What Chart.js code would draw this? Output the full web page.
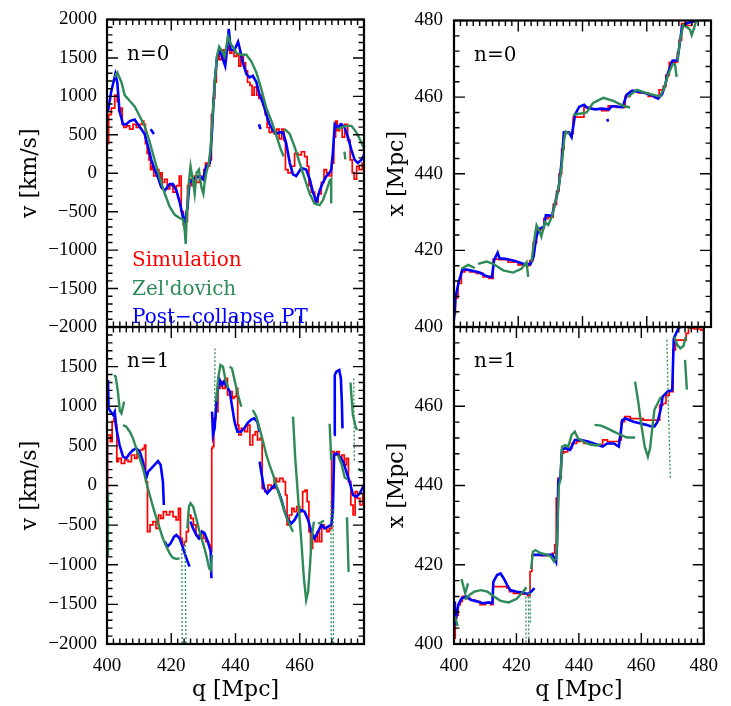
<!DOCTYPE html>
<html><head><meta charset="utf-8">
<script src="https://cdn.jsdelivr.net/npm/chart.js@4"></script>
<style>
html,body{margin:0;padding:0;background:#fff;}
#wrap{position:relative;width:731px;height:706px;background:#fff;overflow:hidden;}
#wrap canvas{position:absolute;left:0;top:0;}
</style></head><body>
<div id="wrap">
<canvas id="cTL" width="731" height="706"></canvas>
<canvas id="cBL" width="731" height="706"></canvas>
<canvas id="cTR" width="731" height="706"></canvas>
<canvas id="cBR" width="731" height="706"></canvas>
</div>
<script>
// ---------- tick labels ----------
const qTicks = [400, 420, 440, 460, 480];
const vTicks = [-2000, -1500, -1000, -500, 0, 500, 1000, 1500, 2000];
const xTicks = [400, 420, 440, 460, 480];
const seriesNames = ['Simulation', "Zel'dovich", 'Post\u2212collapse PT'];
const panelLabels = ['n=0', 'n=1'];

// ---------- top-left: n=0, velocity ----------
const q_TL_sim = [400.2,400.8,401.9,402.9,403.4,403.9,404.5,405.0,405.5,406.5,407.6,408.6,409.6,410.7,411.2,411.7,412.2,412.8,413.3,413.8,414.3,414.8,415.9,416.4,416.9,417.4,418.5,419.0,420.0,421.1,422.1,422.9,423.3,424.2,424.7,425.4,426.0,426.8,427.5,428.3,429.2,429.9,430.4,430.9,431.6,432.3,432.7,433.3,433.8,434.3,434.8,435.4,436.1,436.8,437.5,437.9,438.5,439.2,439.9,440.8,441.3,442.0,442.9,443.4,444.1,444.9,445.4,446.2,447.0,447.5,448.0,448.9,449.6,450.1,450.9,451.7,452.4,453.2,454.0,454.8,455.3,455.8,456.9,457.9,458.9,460.0,461.0,462.0,462.6,463.1,464.1,465.2,466.2,467.2,467.9,468.8,469.6,470.3,470.9,471.4,471.9,472.9,473.5,474.5,475.3,476.1,476.6,477.3,478.1,478.9,480.0];
const v_TL_sim = [385,763,848,1016,932,805,848,637,595,616,574,637,595,637,679,637,385,259,175,48,91,-36,48,-78,6,-120,-78,-204,-162,-246,-162,-36,-498,-667,-625,-162,-78,-162,-36,-120,-36,-78,48,133,91,175,763,974,1184,1478,1563,1478,1604,1478,1604,1647,1563,1604,1520,1541,1394,1520,1436,1331,1184,1142,1016,1121,1016,974,1016,890,763,595,532,553,511,574,448,574,427,48,6,91,259,238,280,217,91,-162,-246,-372,-267,-120,48,6,-36,133,469,679,553,637,469,637,427,175,6,-78,91,48,133];
const q_TL_zel = [402.4,403.2,404.5,405.5,407.1,408.6,410.2,411.7,413.3,414.8,416.4,418.0,419.5,421.1,422.6,423.7,424.2,424.5,424.8,425.4,426.0,426.7,427.3,427.9,428.6,429.4,430.0,430.4,430.9,431.6,432.3,432.9,433.5,434.2,434.9,435.6,436.6,437.7,438.5,439.2,440.3,441.8,443.4,444.9,446.5,448.0,449.6,451.2,452.7,454.0,455.0,null,455.3,456.9,458.4,460.0,461.6,463.1,464.6,466.2,467.2,468.3,469.3,469.8,469.8,null,471.7,472.9,474.5,476.1,477.6,478.9,480.0,null,473.9,474.2];
const v_TL_zel = [1247,1310,1184,1016,940,869,742,616,406,175,-57,-267,-435,-541,-583,-604,-751,-919,-583,-162,91,-78,-267,6,48,-183,-267,-120,6,112,343,763,1142,1520,1647,1604,1520,1780,1680,1647,1563,1541,1541,1457,1310,1100,848,679,490,322,217,null,574,511,343,133,-78,-267,-393,-414,-351,-225,-99,-78,-393,null,574,595,616,616,532,427,322,null,280,180];
const q_TL_pt = [400.3,401.3,402.6,403.2,403.9,405.0,406.0,407.1,408.6,409.6,410.7,411.7,412.8,413.8,414.8,415.9,416.9,418.0,419.5,420.5,421.6,422.6,423.7,424.2,425.0,425.7,426.8,427.8,428.8,429.9,430.9,432.0,432.7,433.5,434.3,435.1,436.1,436.8,437.5,437.9,438.5,439.7,440.8,441.3,442.3,443.4,444.4,445.4,446.5,447.5,448.6,449.6,450.6,451.7,452.7,453.7,454.8,455.8,456.9,457.9,458.9,460.5,462.0,463.1,464.1,465.2,466.2,467.2,468.3,469.3,469.8,470.3,470.9,471.9,472.9,474.0,475.0,476.1,477.1,478.1,479.2,480.0,null,413.6,414.6,null,447.3,447.8];
const v_TL_pt = [805,1058,1289,1184,805,637,637,679,700,637,574,511,343,175,48,-57,-183,-225,-141,-141,-225,-372,-583,-625,-456,-120,-78,-57,-36,-78,91,133,553,1184,1520,1604,1478,1394,1689,1878,1604,1604,1710,1626,1436,1289,1247,1268,1184,1016,911,763,637,553,511,532,532,385,133,-15,-36,69,48,-78,-246,-372,-225,-120,-36,6,48,259,637,595,637,595,469,301,175,133,175,238,null,574,511,null,637,574];

// ---------- bottom-left: n=1, velocity ----------
const q_BL_sim = [400.1,400.3,400.8,401.3,401.9,402.4,402.9,403.2,403.9,405.0,406.0,407.1,408.1,409.1,409.6,410.7,411.5,411.9,412.2,413.0,413.8,414.8,415.7,416.4,417.1,418.0,419.0,420.0,421.1,421.9,422.6,423.1,423.7,424.4,425.0,425.7,426.5,427.3,428.1,428.8,429.6,430.4,431.2,432.0,432.5,432.7,433.0,433.5,434.3,434.8,435.6,436.4,437.1,437.9,438.7,439.2,439.9,440.6,440.8,441.3,442.3,443.4,444.1,444.9,445.8,446.5,447.2,448.0,448.6,449.6,450.6,451.7,452.4,453.2,454.3,455.3,455.8,456.3,457.2,457.9,458.6,459.5,460.5,461.3,462.0,462.6,463.1,463.6,464.4,465.2,465.7,466.5,467.2,468.0,468.8,469.6,470.3,471.1,471.9,472.7,473.5,474.2,474.8,475.5,476.3,476.9,477.6,478.3,479.2,480.0];
const v_BL_sim = [-78,637,637,553,805,848,763,301,343,280,322,301,385,343,427,448,469,511,48,-583,-498,-456,-541,-372,-414,-330,-372,-330,-393,-435,-288,-667,-751,-709,-583,-372,-414,-498,-625,-667,-583,-667,-709,-751,-835,469,490,848,932,1226,1310,1226,1352,1142,1184,1100,1121,1226,763,637,721,679,763,511,637,679,574,595,-36,-78,6,-36,91,48,91,48,-120,-498,-372,-288,-330,-267,-330,-78,-57,-204,-583,-793,-667,-709,-583,-709,-498,-541,-583,-541,427,385,427,343,385,259,343,48,-246,-372,-78,-162,-246,-120];
const q_BL_zel = [400.1,400.3,null,402.2,402.7,403.4,404.0,404.5,405.0,405.3,null,405.0,406.0,407.1,408.1,409.1,410.2,411.2,412.2,413.3,414.3,415.4,416.4,417.4,418.5,419.5,420.5,421.6,422.6,null,425.0,425.5,426.0,426.8,427.8,428.8,429.9,430.9,431.8,432.3,432.7,null,434.0,434.6,435.3,436.1,436.8,437.7,null,438.2,438.9,439.7,440.8,441.8,null,445.4,446.5,447.5,448.6,449.6,450.6,451.7,452.7,453.7,454.8,455.8,456.9,457.9,null,457.9,458.6,459.5,460.5,461.3,462.0,462.6,463.2,463.7,464.4,null,465.7,466.7,467.5,null,469.3,469.8,null,471.9,473.0,474.0,474.8,null,474.7,475.2,null,475.8,476.5,477.3,477.8,null,478.2,479.0,480.0];
const v_BL_zel = [-880,-80,null,1394,1373,1184,940,911,995,1058,null,763,742,679,595,469,343,217,48,-120,-267,-414,-541,-667,-772,-856,-911,-927,-919,null,-541,-267,-225,-267,-414,-583,-730,-877,-1045,-1066,-877,null,1058,1352,1520,1499,1352,1226,null,1499,1478,1331,1142,995,null,953,869,721,553,385,259,133,6,-120,-267,-393,-498,-583,null,869,343,-162,-709,-1171,-1445,-1340,-1003,-667,-456,null,-480,-470,-440,null,780,320,null,385,270,100,80,null,-400,-1090,null,1300,900,760,700,null,210,190,190];
const q_BL_zel_spikes = [423.3,423.4,null,424.3,424.6,null,433.5,433.6,null,469.7,469.8,null,470.4,470.5,null,476.8,477.0];
const v_BL_zel_spikes = [-800,-2050,null,-700,-2050,null,950,1730,null,-200,-2050,null,-300,-2050,null,1350,300];
const q_BL_pt = [400.3,400.5,401.1,401.9,402.4,402.9,403.9,405.0,406.0,407.1,408.1,409.1,410.2,411.2,412.2,412.8,413.8,414.8,415.9,416.7,417.4,417.7,null,418.0,418.8,419.8,420.9,421.6,422.6,423.7,424.7,425.7,null,426.0,426.8,427.8,428.6,429.6,430.4,431.4,432.3,432.5,null,432.7,433.0,433.5,434.3,435.1,435.8,436.4,437.1,438.2,439.2,439.7,440.6,441.6,442.7,443.7,444.7,445.8,446.8,447.5,null,447.5,448.0,448.9,449.9,451.2,452.2,453.2,454.3,455.3,456.3,457.4,458.4,459.5,460.5,461.5,462.6,463.6,464.6,465.7,466.7,467.8,468.8,469.8,470.3,470.7,471.4,472.4,473.5,474.5,475.5,476.6,477.6,478.7,480.0,null,470.7,470.9,471.4,472.3,472.8,473.1,473.3];
const v_BL_pt = [1331,974,932,890,932,721,511,364,343,406,448,469,427,301,91,175,217,259,309,259,48,-246,null,-709,-772,-730,-646,-625,-667,-793,-919,-1024,null,-456,-541,-625,-667,-583,-604,-709,-835,-1171,null,932,637,721,1184,1331,1268,1310,1268,1184,932,805,679,679,721,784,826,848,805,679,null,301,175,-36,-99,-36,6,-57,-183,-330,-435,-477,-435,-351,-309,-330,-435,-583,-667,-583,-498,-541,-520,-498,-330,385,406,364,301,175,48,-120,-141,-99,6,null,637,1394,1436,1457,1352,1058,721];

// ---------- top-right: n=0, position ----------
const q_TR_sim = [400.2,400.7,401.8,402.8,403.9,405.9,408.0,410.1,411.7,412.7,415.3,418.4,421.5,423.1,424.1,425.2,426.2,427.7,428.3,430.4,431.4,432.4,433.0,434.0,434.5,436.6,437.6,440.2,440.7,444.4,447.5,448.5,452.7,453.9,455.8,458.9,462.0,463.1,464.6,465.7,466.2,467.8,469.3,469.8,470.3,471.4,473.5,474.5,475.5];
const x_TR_sim = [403.4,407.6,411.4,414.4,414.8,414.4,414.0,413.1,412.7,417.7,417.6,416.9,416.2,416.0,417.3,422.0,425.3,425.7,428.3,428.7,432.0,435.4,440.0,446.4,450.5,450.5,454.8,454.8,457.3,456.9,456.5,457.7,457.3,460.2,461.5,461.1,460.2,459.8,461.9,462.8,465.7,469.1,469.1,471.6,474.9,479.2,478.7,479.6,481.0];
const q_TR_zel = [402.3,404.4,406.5,null,407.5,410.1,412.2,415.3,418.4,421.0,422.6,423.1,null,424.1,425.2,425.7,426.7,427.2,428.3,429.3,430.5,431.5,432.5,433.5,434.3,434.8,436.0,null,437.0,438.5,440.0,441.3,443.3,446.5,449.6,452.7,454.8,null,454.0,456.9,461.0,464.1,465.5,466.5,468.0,468.8,469.3,null,469.6,470.3,471.4,473.0,473.5,474.0,475.0,475.5];
const x_TR_zel = [415.2,416.2,415.4,null,416.5,417.1,416.5,414.8,414.2,415.2,416.9,413.1,null,417.0,424.0,426.6,424.9,423.6,427.4,426.6,428.8,432.4,436.0,442.0,449.0,451.0,450.5,null,455.3,455.6,455.8,456.0,458.5,459.8,459.0,457.7,457.3,null,460.0,461.9,460.8,460.2,462.5,465.5,468.5,468.6,465.3,null,469.5,474.5,478.8,478.0,477.5,476.2,478.7,480.5];
const q_TR_pt = [400.0,400.5,401.5,402.6,404.0,406.0,408.0,410.0,411.8,412.5,413.6,414.2,416.0,419.0,422.0,423.8,424.8,425.6,426.5,428.0,428.6,430.5,431.5,432.6,433.5,434.2,435.8,436.6,437.7,439.0,440.5,441.5,444.0,446.0,448.3,449.0,452.5,453.7,455.5,459.0,461.5,463.5,464.8,465.8,466.5,468.0,469.5,470.2,471.0,472.5,474.5,476.0,null,447.7,448.0];
const x_TR_pt = [402.0,408.0,411.8,415.0,415.0,414.6,414.2,413.3,413.0,417.5,419.4,417.9,417.8,417.2,416.4,416.4,418.5,423.5,425.6,426.2,429.2,429.0,432.5,436.5,443.0,450.8,450.8,449.6,455.5,457.5,458.0,457.2,456.8,457.0,456.8,457.6,457.4,460.6,461.7,461.2,460.5,459.6,460.8,463.4,466.0,469.5,469.6,473.5,478.5,479.3,479.8,481.0,null,454.3,453.6];

// ---------- bottom-right: n=1, position ----------
const q_BR_sim = [400.3,400.5,401.1,401.6,402.4,402.9,404.5,406.0,407.6,409.1,411.2,412.3,412.6,414.3,416.4,417.5,418.0,420.1,423.2,424.0,424.7,425.2,426.8,428.9,431.0,432.0,432.5,433.0,433.6,434.1,434.6,435.6,437.2,438.2,440.3,442.9,445.0,447.1,448.1,450.2,452.3,453.3,453.9,455.4,457.5,459.5,461.6,464.2,465.8,466.0,467.8,468.0,469.9,470.4,471.5,474.1,474.6,475.6,478.2,480.0];
const x_BR_sim = [401.5,406.5,407.3,409.9,410.7,412.0,411.5,411.1,410.7,409.9,410.3,409.9,414.5,414.5,414.5,414.1,413.2,412.8,412.6,412.2,418.3,422.5,422.5,422.3,422.5,422.9,425.0,436.8,441.8,441.8,448.1,448.5,449.4,450.6,451.1,450.6,450.2,450.2,451.5,451.1,451.1,451.5,456.1,457.4,456.9,456.9,456.5,456.5,456.5,460.3,460.7,462.8,463.7,474.2,476.7,476.7,478.4,479.7,479.5,479.2];
const q_BR_zel = [400.3,401.2,null,402.4,403.6,404.5,null,403.5,405.0,406.5,408.6,410.7,412.8,414.9,417.5,420.1,422.1,423.2,null,424.7,425.3,426.1,427.8,429.4,431.0,432.0,432.7,433.0,433.6,434.1,434.6,435.6,436.6,437.7,438.7,439.7,441.4,443.4,445.5,447.1,null,445.0,447.1,449.1,451.2,453.3,455.4,458.0,null,458.0,459.0,460.0,461.1,462.1,462.8,463.5,464.2,465.2,466.3,null,470.6,471.5,472.5,473.5,474.2,null,474.0,474.6,null,475.3,476.0];
const x_BR_zel = [407.0,404.5,null,416.4,412.8,415.3,null,411.2,412.4,413.2,413.6,413.2,412.0,410.9,410.5,411.4,413.2,414.3,null,418.9,423.3,423.7,422.9,422.6,422.1,420.8,421.6,426.0,440.1,441.5,449.8,450.2,449.8,452.8,453.6,451.9,451.1,450.4,450.1,450.4,null,455.3,455.1,454.4,453.6,452.8,452.1,452.1,null,466.2,461.2,455.3,449.8,447.3,449.4,454.4,459.1,460.7,462.4,null,477.5,475.5,474.6,475.2,477.5,null,471.7,464.2,null,479.5,480.5];
const q_BR_zel_spikes = [423.0,423.1,null,423.8,424.0,null,424.3,424.5,null,468.2,468.6,469.3];
const x_BR_zel_spikes = [414.0,400.0,null,413.0,400.0,null,416.0,405.0,null,476.8,462.0,441.5];
const q_BR_pt = [400.1,400.3,400.8,401.4,402.4,403.9,405.5,407.6,409.1,411.2,412.3,412.6,413.8,414.9,415.9,417.0,418.0,420.1,422.1,423.6,424.7,425.8,null,425.2,428.0,431.5,432.3,432.7,433.0,433.4,434.1,434.6,435.6,437.2,438.7,440.8,442.9,445.5,447.6,449.1,451.2,452.8,453.9,454.9,457.5,459.5,461.6,463.2,464.2,465.2,466.3,466.8,468.4,469.9,470.4,471.9,474.0,476.0,480.0];
const x_BR_pt = [410.7,404.8,407.3,409.9,411.5,412.0,411.1,410.7,410.3,410.5,410.3,415.7,417.4,417.8,416.6,414.9,413.6,413.2,413.0,412.6,413.2,414.1,null,422.5,422.5,422.5,421.6,420.8,425.0,441.0,442.3,449.0,449.4,449.0,451.5,451.5,451.1,450.4,449.8,450.6,450.6,449.8,456.5,456.9,456.1,455.7,455.3,454.9,454.9,456.1,459.5,462.4,463.7,464.1,477.1,479.7,480.5,480.5,480.5];

// ---------- drawing ----------
const RED = '#ff0000', GREEN = '#2e8b57', BLUE = '#0000ff';
const pts = (qs, vs) => qs.map((q, i) => ({x: q, y: vs[i] === undefined ? null : vs[i]}));
const fmt = v => (v < 0 ? '\u2212' + Math.abs(v) : String(v));

const framePlugin = {
  id: 'frameTicks',
  afterDatasetsDraw(chart, args, o) {
    const {ctx, chartArea: a} = chart;
    const xs = chart.scales.x, ys = chart.scales.y;
    ctx.save();
    ctx.strokeStyle = '#000';
    ctx.lineWidth = 1.4;
    ctx.beginPath();
    const nx = Math.round((xs.max - xs.min) / o.xMinor);
    for (let i = 0; i <= nx; i++) {
      const v = xs.min + i * o.xMinor;
      const major = Math.abs(v / o.xMajor - Math.round(v / o.xMajor)) < 1e-6;
      const L = major ? 11 : 5.5;
      const px = xs.getPixelForValue(v);
      ctx.moveTo(px, a.bottom); ctx.lineTo(px, a.bottom - L);
      ctx.moveTo(px, a.top); ctx.lineTo(px, a.top + L);
    }
    const ny = Math.round((ys.max - ys.min) / o.yMinor);
    for (let i = 0; i <= ny; i++) {
      const v = ys.min + i * o.yMinor;
      const major = Math.abs(v / o.yMajor - Math.round(v / o.yMajor)) < 1e-6;
      const L = major ? 11 : 5.5;
      const py = ys.getPixelForValue(v);
      ctx.moveTo(a.left, py); ctx.lineTo(a.left + L, py);
      ctx.moveTo(a.right, py); ctx.lineTo(a.right - L, py);
    }
    ctx.stroke();
    ctx.lineWidth = 2.2;
    ctx.strokeRect(a.left, a.top, a.right - a.left, a.bottom - a.top);
    // panel label
    ctx.font = '20px "DejaVu Serif"';
    ctx.textBaseline = 'alphabetic';
    ctx.textAlign = 'left';
    ctx.fillStyle = '#000';
    ctx.fillText(o.nlabel, a.left + 20, a.top + 40);
    if (o.legend) {
      const cols = [RED, GREEN, BLUE];
      const offs = [246, 275, 303];
      seriesNames.forEach((t, i) => {
        ctx.fillStyle = cols[i];
        ctx.fillText(t, a.left + 25, a.top + offs[i]);
      });
    }
    ctx.restore();
  }
};

function makeChart(id, p) {
  const left = p.col === 0, top = p.row === 0;
  const yW = left ? 107 : 74;
  const xH = top ? 20 : 62;
  const pad = {
    left: left ? 0 : 380,
    right: left ? 367 : 20,
    top: top ? 10 : 327,
    bottom: top ? (706 - 327 - xH) : 0
  };
  const ds = (data, col, w, extra) => Object.assign({data, borderColor: col, borderWidth: w, pointRadius: 0, fill: false, tension: 0, spanGaps: false, clip: 0}, extra || {});
  const sets = [ds(p.zel, GREEN, 2.4)];
  if (p.spk) sets.push(ds(p.spk, GREEN, 1.3, {borderDash: [2, 2]}));
  sets.push(ds(p.pt, BLUE, 2.6));
  sets.push(ds(p.sim, RED, 1.7, {stepped: 'middle'}));
  new Chart(document.getElementById(id), {
    type: 'line',
    data: {datasets: sets},
    options: {
      responsive: false, animation: false, devicePixelRatio: 1,
      layout: {padding: pad},
      plugins: {legend: {display: false}, tooltip: {enabled: false},
        frameTicks: {xMajor: 20, xMinor: 2, yMajor: p.yMajor, yMinor: p.yMinor, nlabel: p.nlabel, legend: p.legend}},
      scales: {
        x: {
          type: 'linear', min: 400, max: 480,
          afterBuildTicks: s => { s.ticks = qTicks.map(v => ({value: v})); },
          afterFit: s => { s.height = xH; },
          grid: {display: false, drawTicks: false}, border: {display: false},
          ticks: {display: !top, autoSkip: false, maxRotation: 0, minRotation: 0, padding: 13, color: '#000',
            font: {family: 'Liberation Serif', size: 19, lineHeight: 1},
            callback: v => (p.hideX.includes(v) ? '' : fmt(v))},
          title: {display: !top, text: 'q [Mpc]', color: '#000', font: {family: 'DejaVu Serif', size: 22}, padding: {top: 0, bottom: 3}}
        },
        y: {
          type: 'linear', min: p.ymin, max: p.ymax,
          afterBuildTicks: s => { s.ticks = p.yTicks.map(v => ({value: v})); },
          afterFit: s => { s.width = yW; },
          grid: {display: false, drawTicks: false}, border: {display: false},
          ticks: {autoSkip: false, padding: left ? 10 : 11, color: '#000',
            font: {family: 'Liberation Serif', size: 19, lineHeight: 1},
            callback: v => (p.hideY.includes(v) ? '' : fmt(v))},
          title: {display: true, text: p.ytitle, color: '#000', font: {family: 'DejaVu Serif', size: 22}, padding: {top: left ? 17 : 4, bottom: 0}}
        }
      }
    },
    plugins: [framePlugin]
  });
}

makeChart('cTL', {row: 0, col: 0, ymin: -2000, ymax: 2000, yTicks: vTicks, yMajor: 500, yMinor: 100, hideX: [], hideY: [],
  ytitle: 'v [km/s]', nlabel: panelLabels[0], legend: true,
  sim: pts(q_TL_sim, v_TL_sim), zel: pts(q_TL_zel, v_TL_zel), pt: pts(q_TL_pt, v_TL_pt)});
makeChart('cBL', {row: 1, col: 0, ymin: -2000, ymax: 2000, yTicks: vTicks, yMajor: 500, yMinor: 100, hideX: [480], hideY: [2000],
  ytitle: 'v [km/s]', nlabel: panelLabels[1], legend: false,
  sim: pts(q_BL_sim, v_BL_sim), zel: pts(q_BL_zel, v_BL_zel), spk: pts(q_BL_zel_spikes, v_BL_zel_spikes), pt: pts(q_BL_pt, v_BL_pt)});
makeChart('cTR', {row: 0, col: 1, ymin: 400, ymax: 480, yTicks: xTicks, yMajor: 20, yMinor: 4, hideX: [], hideY: [],
  ytitle: 'x [Mpc]', nlabel: panelLabels[0], legend: false,
  sim: pts(q_TR_sim, x_TR_sim), zel: pts(q_TR_zel, x_TR_zel), pt: pts(q_TR_pt, x_TR_pt)});
makeChart('cBR', {row: 1, col: 1, ymin: 400, ymax: 480, yTicks: xTicks, yMajor: 20, yMinor: 4, hideX: [], hideY: [480],
  ytitle: 'x [Mpc]', nlabel: panelLabels[1], legend: false,
  sim: pts(q_BR_sim, x_BR_sim), zel: pts(q_BR_zel, x_BR_zel), spk: pts(q_BR_zel_spikes, x_BR_zel_spikes), pt: pts(q_BR_pt, x_BR_pt)});
</script>
</body></html>
